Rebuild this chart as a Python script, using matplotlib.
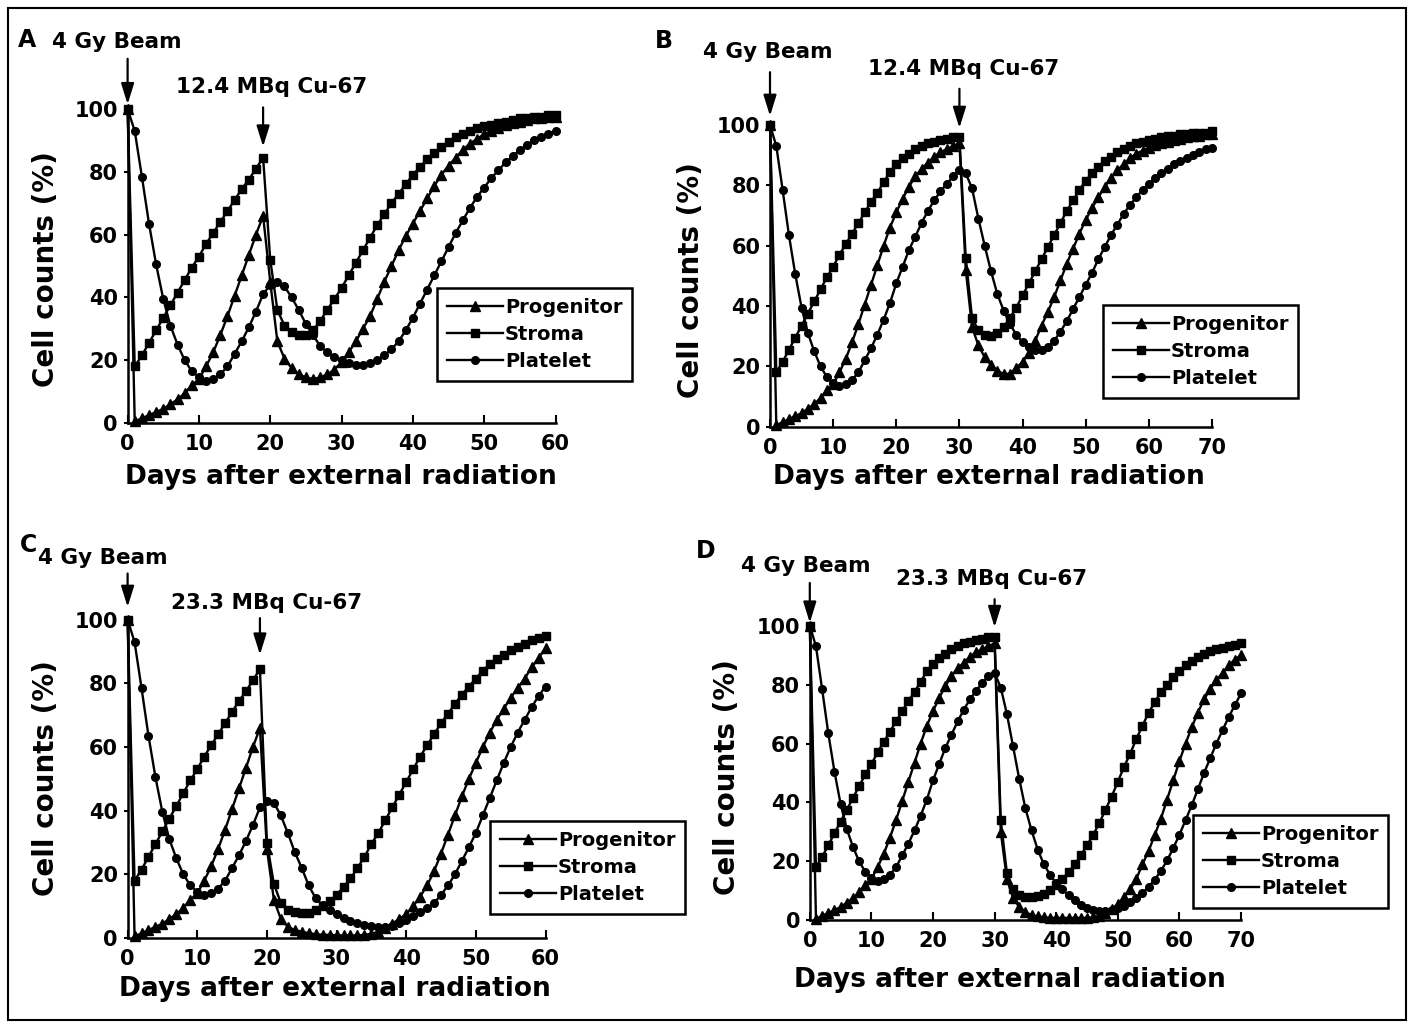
import numpy as np
import matplotlib
matplotlib.use("Agg")
import matplotlib.pyplot as plt
from matplotlib.patches import Rectangle

# values, one per day
days_a = list(range(61))
prog_a = [100, 0.5, 1.5, 2.5, 3.5, 4.5, 6, 7.5, 9.5, 12,
          14, 18, 22.5, 28, 34, 40.5, 47, 53.5, 60, 66,
          45, 26, 20.5, 17.5, 15.5, 14.5, 14, 14.5, 15.5, 17,
          19.5, 22.5, 26, 30, 34, 39.5, 45, 50, 55, 59.5,
          63.5, 67.5, 71.5, 75.5, 79, 82, 84.5, 87, 89, 90.5,
          92, 93, 94, 95, 95.5, 96, 96.5, 97, 97, 97.5,
          97.5]
stroma_a = [100, 18, 21.5, 25.5, 29.5, 33.5, 37.5, 41.5, 45.5, 49.5,
            53, 57, 60.5, 64, 67.5, 71, 74.5, 77.5, 81, 84.5,
            52, 36, 31, 29, 28, 28, 29.5, 32.5, 36, 39.5,
            43, 47, 51, 55, 59, 63, 66.5, 70, 73, 76,
            79, 81.5, 84, 86, 88, 89.5, 91, 92, 93, 94,
            94.5, 95, 95.5, 96, 96.5, 97, 97, 97.5, 97.5, 98,
            98]
platelet_a = [100, 93, 78.5, 63.5, 50.5, 39.5, 31, 25, 20, 16.5,
              14.5, 13.5, 14, 15.5, 18, 22, 26, 30.5, 35.5, 41,
              44, 45, 43.5, 40, 36, 31.5, 28, 24.5, 22.5, 21,
              20, 19, 18.5, 18.5, 19, 20, 21.5, 23.5, 26, 29.5,
              33.5, 38, 42.5, 47, 51.5, 56, 60.5, 64.5, 68.5, 72,
              75, 78, 80.5, 83, 85, 87, 88.5, 90, 91, 92,
              93]

days_b = list(range(71))
prog_b = [100, 0.5, 1.5, 2.5, 3.5, 4.5, 6, 7.5, 9.5, 12,
          14, 18, 22.5, 28, 34, 40.5, 47, 53.5, 60, 66,
          71, 75.5, 79.5, 83, 85.5, 87.5, 89.5, 91, 92, 93,
          94, 52, 33, 27, 23, 20.5, 18.5, 17.5, 17.5, 19.5,
          21.5, 24.5, 28.5, 33.5, 38, 43, 48.5, 54, 59, 64,
          68.5, 72.5, 76, 79.5, 82.5, 85, 87, 89, 90.5, 91.5,
          92.5, 93.5, 94, 94.5, 95, 95.5, 96, 96.5, 96.5, 97,
          97]
stroma_b = [100, 18, 21.5, 25.5, 29.5, 33.5, 37.5, 41.5, 45.5, 49.5,
            53, 57, 60.5, 64, 67.5, 71, 74.5, 77.5, 81, 84.5,
            87, 89, 90.5, 92, 93, 94, 94.5, 95, 95.5, 96,
            96, 56, 36, 32, 30.5, 30, 31, 33, 36, 39.5,
            43.5, 47.5, 51.5, 55.5, 59.5, 63.5, 67.5, 71.5, 75, 78.5,
            81.5, 84, 86, 88, 89.5, 91, 92, 93, 94, 94.5,
            95, 95.5, 96, 96.5, 96.5, 97, 97, 97.5, 97.5, 97.5,
            98]
platelet_b = [100, 93, 78.5, 63.5, 50.5, 39.5, 31, 25, 20, 16.5,
              14.5, 13.5, 14, 15.5, 18, 22, 26, 30.5, 35.5, 41,
              47.5, 53, 58.5, 63, 67.5, 71.5, 75, 78, 80.5, 83,
              85, 84, 79, 69, 60, 51.5, 44, 38.5, 34, 30.5,
              28, 26.5, 25.5, 25.5, 26.5, 28.5, 31.5, 35, 39, 43,
              47, 51, 55.5, 59.5, 63.5, 67, 70.5, 73.5, 76, 78.5,
              80.5, 82.5, 84, 85.5, 87, 88, 89, 90, 91, 92,
              92.5]

days_c = list(range(61))
prog_c = [100, 0.5, 1.5, 2.5, 3.5, 4.5, 6, 7.5, 9.5, 12,
          14, 18, 22.5, 28, 34, 40.5, 47, 53.5, 60, 66,
          28, 12, 6, 3.5, 2.5, 2, 1.5, 1.2, 1, 1,
          0.8, 0.8, 0.8, 0.8, 1, 1.3, 2, 3, 4.5, 6,
          7.5, 10, 13, 16.5, 21, 26.5, 32.5, 38.5, 44.5, 50,
          55, 60, 64.5, 68.5, 72, 75.5, 78.5, 81.5, 85, 88,
          91]
stroma_c = [100, 18, 21.5, 25.5, 29.5, 33.5, 37.5, 41.5, 45.5, 49.5,
            53, 57, 60.5, 64, 67.5, 71, 74.5, 77.5, 81, 84.5,
            30, 17, 11, 8.8, 8.2, 7.9, 8, 8.8, 10, 11.5,
            13.5, 16, 18.7, 21.9, 25.5, 29.5, 33, 37, 41, 45,
            49, 53, 57, 60.5, 64, 67.5, 70.5, 73.5, 76.5, 79,
            81.5, 84, 86, 87.5, 89, 90.5, 91.5, 92.5, 93.5, 94.2,
            95]
platelet_c = [100, 93, 78.5, 63.5, 50.5, 39.5, 31, 25, 20, 16.5,
              14.5, 13.5, 14, 15.5, 18, 22, 26, 30.5, 35.5, 41,
              43, 42.5, 38.5, 33, 27, 22, 16.5, 12.5, 10.3, 8.8,
              7.5, 6.3, 5.3, 4.6, 4.1, 3.7, 3.5, 3.5, 3.9, 4.6,
              5.6, 6.8, 8.1, 9.3, 11, 13.5, 16.5, 20, 24.2, 28.5,
              33, 38.5, 44, 49.5, 55, 60, 64.5, 68.5, 72.5, 76,
              79]

days_d = list(range(71))
prog_d = [100, 0.5, 1.5, 2.5, 3.5, 4.5, 6, 7.5, 9.5, 12,
          14, 18, 22.5, 28, 34, 40.5, 47, 53.5, 60, 66,
          71, 75.5, 79.5, 83, 85.5, 87.5, 89.5, 91, 92, 93,
          94, 30, 14, 7.5, 4.5, 2.8, 1.8, 1.3, 1, 0.8,
          0.8, 0.8, 0.8, 0.8, 0.8, 0.8, 1, 1.5, 2.5, 3.8,
          5.5, 7.8, 10.5, 14, 19, 23.5, 29, 34.5, 41, 47.5,
          54, 60, 65.5, 70.5, 75, 78.5, 81.5, 84, 86.5, 88.5,
          90]
stroma_d = [100, 18, 21.5, 25.5, 29.5, 33.5, 37.5, 41.5, 45.5, 49.5,
            53, 57, 60.5, 64, 67.5, 71, 74.5, 77.5, 81, 84.5,
            87, 89, 90.5, 92, 93, 94, 94.5, 95, 95.5, 96,
            96, 34, 16, 10.5, 8.5, 7.8, 7.8, 8.2, 9, 10.2,
            12, 14, 16.3, 19, 22, 25.5, 29, 33, 37.5, 42,
            47, 52, 56.5, 61.5, 66, 70.5, 74, 77.5, 80, 82.5,
            84.5, 86.5, 88, 89.5, 90.5, 91.5, 92, 92.5, 93, 93.5,
            94]
platelet_d = [100, 93, 78.5, 63.5, 50.5, 39.5, 31, 25, 20, 16.5,
              14.5, 13.5, 14, 15.5, 18, 22, 26, 30.5, 35.5, 41,
              47.5, 53, 58.5, 63, 67.5, 71.5, 75, 78, 80.5, 83,
              84, 79, 70, 59, 48, 38, 30.5, 24, 19, 15.5,
              12.5, 10.5, 8.5, 6.8, 5.3, 4.2, 3.5, 3.2, 3.2, 3.6,
              4.2, 5, 6.2, 7.6, 9.3, 11.3, 13.8, 16.8, 20.3, 24.5,
              29, 34, 39, 44.5, 50, 55, 60, 64.5, 69, 73,
              77]

series_names = ["Progenitor", "Stroma", "Platelet"]
beam_label = "4 Gy Beam"
cu_labels = ["12.4 MBq Cu-67", "12.4 MBq Cu-67", "23.3 MBq Cu-67", "23.3 MBq Cu-67"]
inject_days = [19, 30, 19, 30]

W, H = 1414, 1026
FONT = "DejaVu Sans"


def fx(px):
    return px / W


def fy(py):
    return 1 - py / H


fig = plt.figure(figsize=(W / 100, H / 100), dpi=100)
fig.patches.append(Rectangle((fx(8), fy(1020)), fx(1406) - fx(8), fy(8) - fy(1020),
                             transform=fig.transFigure, fill=False, lw=1.5, ec="black"))

# pixel layout of each panel (left, right, top, bottom of the axes)
layout = [
    dict(box=(127.6, 555.5, 109, 423), letter=(18, 47), beam=(52, 48), cu=(176, 93),
         beam_arrow=(116, 101.5), cu_arrow=(100.5, 88), leg=(437, 288),
         ylab=(46, 269), xlab=(341, 477)),
    dict(box=(770, 1212, 125, 426.7), letter=(655, 48), beam=(703, 58), cu=(868, 75),
         beam_arrow=(117.5, 103), cu_arrow=(112, 99), leg=(1103, 305),
         ylab=(691, 280), xlab=(989, 477)),
    dict(box=(127.6, 545.5, 619.7, 938), letter=(20, 552), beam=(38, 564), cu=(171, 609),
         beam_arrow=(114.5, 104), cu_arrow=(100.5, 89), leg=(490, 821),
         ylab=(46, 778), xlab=(335, 989)),
    dict(box=(809.8, 1241, 625.7, 920.3), letter=(696, 558), beam=(741, 572), cu=(896, 585),
         beam_arrow=(114.5, 101), cu_arrow=(109, 99.5), leg=(1193, 815),
         ylab=(727, 777), xlab=(1010, 980)),
]

data = [
    (days_a, prog_a, stroma_a, platelet_a, "A"),
    (days_b, prog_b, stroma_b, platelet_b, "B"),
    (days_c, prog_c, stroma_c, platelet_c, "C"),
    (days_d, prog_d, stroma_d, platelet_d, "D"),
]

markers = ["^", "s", "o"]
msizes = [6.5, 5.5, 5.5]

for i, ((days, prog, stroma, plate, letter), lay) in enumerate(zip(data, layout)):
    l, r, t, b = lay["box"]
    ax = fig.add_axes([fx(l), fy(b), fx(r) - fx(l), fy(t) - fy(b)])
    handles = []
    for vals, mk, ms, name in zip([prog, stroma, plate], markers, msizes, series_names):
        h, = ax.plot(days, vals, color="black", lw=1.7, marker=mk, ms=ms,
                     mfc="black", mec="black", clip_on=False, label=name)
        handles.append(h)
    xmax = days[-1]
    ax.set_xlim(0, xmax)
    ax.set_ylim(0, 100)
    ax.set_xticks(range(0, xmax + 1, 10))
    ax.set_yticks(range(0, 101, 20))
    for s in ["top", "right"]:
        ax.spines[s].set_visible(False)
    for s in ["left", "bottom"]:
        ax.spines[s].set_linewidth(1.8)
    ax.tick_params(axis="x", direction="in", length=6, width=1.5, pad=8)
    ax.tick_params(axis="y", direction="out", length=3, width=1.5, pad=4)
    for lab in ax.get_xticklabels() + ax.get_yticklabels():
        lab.set_fontsize(15)
        lab.set_fontweight("bold")
        lab.set_family(FONT)

    leg = ax.legend(handles=handles, loc="upper left",
                    bbox_to_anchor=(fx(lay["leg"][0]), fy(lay["leg"][1])),
                    bbox_transform=fig.transFigure, frameon=True, fancybox=False,
                    edgecolor="black", framealpha=1, borderpad=0.5, borderaxespad=0,
                    handlelength=2.9, handletextpad=0.1, labelspacing=0.42,
                    prop=dict(family=FONT, weight="bold", size=14))
    leg.get_frame().set_linewidth(1.8)

    # arrows for the beam and the Cu-67 injection
    arrow = dict(arrowstyle="-|>,head_length=0.9,head_width=0.28", color="black",
                 lw=1.6, shrinkA=0, shrinkB=0, mutation_scale=14)
    ax.annotate("", xy=(0, lay["beam_arrow"][1]), xytext=(0, lay["beam_arrow"][0]),
                arrowprops=arrow, annotation_clip=False)
    d = inject_days[i]
    ax.annotate("", xy=(d, lay["cu_arrow"][1]), xytext=(d, lay["cu_arrow"][0]),
                arrowprops=arrow, annotation_clip=False)

    fig.text(fx(lay["letter"][0]), fy(lay["letter"][1]), letter, fontsize=17,
             fontweight="bold", family=FONT, va="baseline")
    fig.text(fx(lay["beam"][0]), fy(lay["beam"][1]), beam_label, fontsize=15.5,
             fontweight="bold", family=FONT, va="baseline")
    fig.text(fx(lay["cu"][0]), fy(lay["cu"][1]), cu_labels[i], fontsize=15.5,
             fontweight="bold", family=FONT, va="baseline")
    fig.text(fx(lay["ylab"][0]), fy(lay["ylab"][1]), "Cell counts (%)", fontsize=20,
             fontweight="bold", family=FONT, rotation=90, ha="center", va="center")
    fig.text(fx(lay["xlab"][0]), fy(lay["xlab"][1]), "Days after external radiation",
             fontsize=19, fontweight="bold", family=FONT, ha="center", va="center")

fig.savefig("out.png", dpi=100)
